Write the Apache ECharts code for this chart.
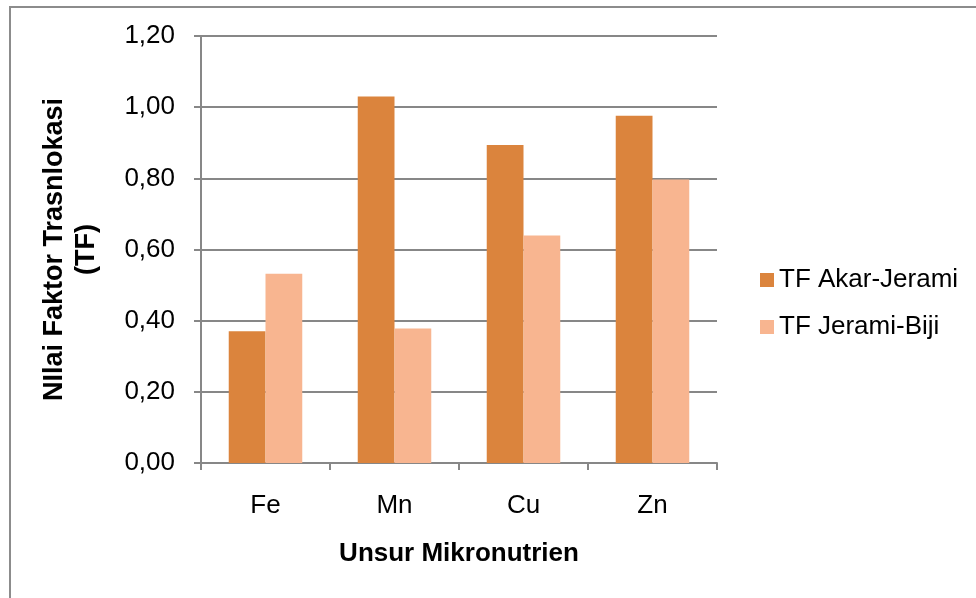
<!DOCTYPE html>
<html>
<head>
<meta charset="utf-8">
<script src="https://cdn.jsdelivr.net/npm/echarts@6/dist/echarts.min.js"></script>
<style>
html,body{margin:0;padding:0;background:#fff;}
#chart{width:976px;height:598px;}
</style>
</head>
<body>
<div id="chart"></div>
<script>
const categories = ['Fe', 'Mn', 'Cu', 'Zn'];
const seriesNames = ['TF Akar-Jerami', 'TF Jerami-Biji'];
const akarJerami = [0.37, 1.03, 0.894, 0.976];
const jeramiBiji = [0.532, 0.378, 0.639, 0.797];
const yTicks = { min: 0, max: 1.2, interval: 0.2 };
const xAxisTitle = 'Unsur Mikronutrien';
const yAxisTitle = 'NIlai Faktor Trasnlokasi\n(TF)';

const FONT = '"Liberation Sans", Arial, sans-serif';
const GRAY = '#878787';

const chart = echarts.init(document.getElementById('chart'), null, { renderer: 'canvas' });
chart.setOption({
  backgroundColor: '#ffffff',
  animation: false,
  textStyle: { fontFamily: FONT },
  graphic: [{
    type: 'rect',
    shape: { x: 10, y: 7, width: 1000, height: 700 },
    style: { fill: 'none', stroke: '#8c8c8c', lineWidth: 2 },
    silent: true
  }],
  grid: { left: 201, top: 36, right: 259, bottom: 135, containLabel: false },
  legend: {
    orient: 'vertical',
    left: 755,
    top: 262,
    itemWidth: 14,
    itemHeight: 14,
    itemGap: 21,
    icon: 'rect',
    textStyle: { fontFamily: FONT, fontSize: 26, color: '#000' },
    data: seriesNames
  },
  xAxis: {
    type: 'category',
    data: categories,
    boundaryGap: true,
    axisLine: { lineStyle: { color: GRAY, width: 2 } },
    axisTick: { show: true, length: 7, inside: false, lineStyle: { color: GRAY, width: 2 } },
    axisLabel: { fontFamily: FONT, fontSize: 26, color: '#000', margin: 30 },
    name: xAxisTitle,
    nameLocation: 'middle',
    nameGap: 78,
    nameTextStyle: { fontFamily: FONT, fontSize: 26, fontWeight: 'bold', color: '#000' }
  },
  yAxis: {
    type: 'value',
    min: yTicks.min,
    max: yTicks.max,
    interval: yTicks.interval,
    axisLine: { show: true, lineStyle: { color: GRAY, width: 2 } },
    axisTick: { show: true, length: 7, inside: false, lineStyle: { color: GRAY, width: 2 } },
    splitLine: { show: true, lineStyle: { color: GRAY, width: 2 } },
    axisLabel: {
      fontFamily: FONT, fontSize: 26, color: '#000', margin: 26,
      formatter: v => v.toFixed(2).replace('.', ',')
    },
    name: yAxisTitle,
    nameLocation: 'middle',
    nameRotate: 90,
    nameGap: 98,
    nameTextStyle: { fontFamily: FONT, fontSize: 27, fontWeight: 'bold', color: '#000', lineHeight: 32, align: 'center' }
  },
  series: [
    {
      name: seriesNames[0], type: 'bar', data: akarJerami,
      barGap: '0%', barCategoryGap: '43%',
      itemStyle: { color: '#DB843D' }
    },
    {
      name: seriesNames[1], type: 'bar', data: jeramiBiji,
      barGap: '0%', barCategoryGap: '43%',
      itemStyle: { color: '#F8B590' }
    }
  ]
});
</script>
</body>
</html>
